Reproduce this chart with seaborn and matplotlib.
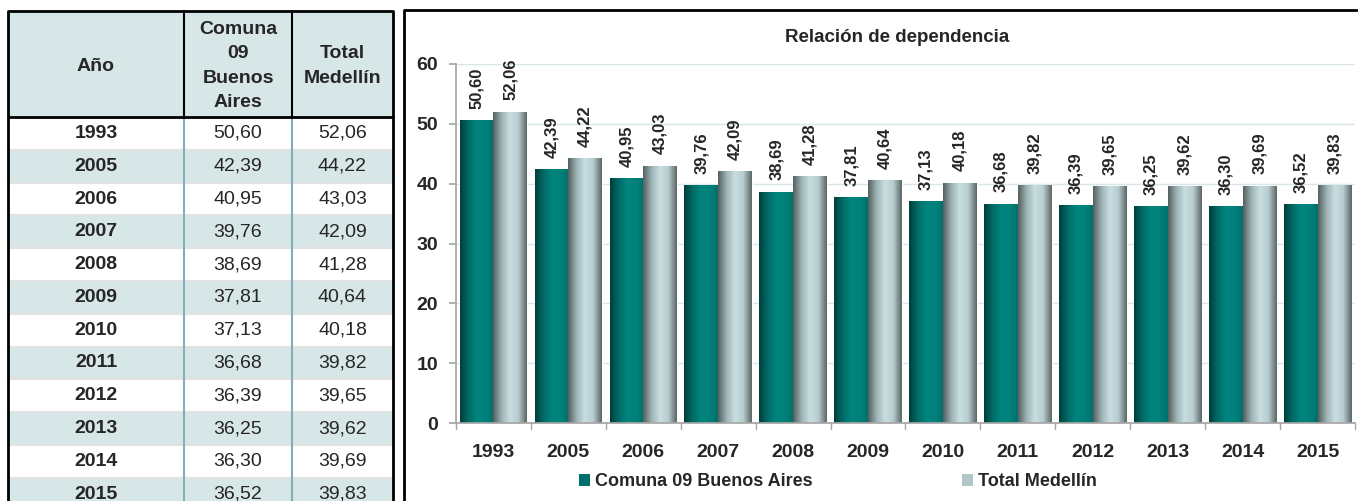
import numpy as np
import pandas as pd
import matplotlib.pyplot as plt
import seaborn as sns
from matplotlib.colors import LinearSegmentedColormap
from matplotlib.patches import Rectangle, Patch

years = ["1993", "2005", "2006", "2007", "2008", "2009", "2010",
         "2011", "2012", "2013", "2014", "2015"]
comuna = [50.60, 42.39, 40.95, 39.76, 38.69, 37.81, 37.13,
          36.68, 36.39, 36.25, 36.30, 36.52]
medellin = [52.06, 44.22, 43.03, 42.09, 41.28, 40.64, 40.18,
            39.82, 39.65, 39.62, 39.69, 39.83]
series_names = ["Comuna 09 Buenos Aires", "Total Medellín"]
table_header = ["Año", "Comuna\n09\nBuenos\nAires", "Total\nMedellín"]
chart_title = "Relación de dependencia"


def fmt(v):
    return f"{v:.2f}".replace(".", ",")


df = pd.DataFrame({
    "year": years * 2,
    "value": comuna + medellin,
    "serie": [series_names[0]] * len(years) + [series_names[1]] * len(years),
})

sns.set_theme(style="white")
plt.rcParams["font.family"] = ["Liberation Sans", "DejaVu Sans"]

W, H = 1358, 501
fig = plt.figure(figsize=(W / 100, H / 100), dpi=100)

# --- lienzo en pixeles para la tabla y los marcos ---
bg = fig.add_axes([0, 0, 1, 1])
bg.set_xlim(0, W)
bg.set_ylim(H, 0)
bg.axis("off")

col_x = [8, 184, 292, 393]
header_top, header_bot = 11, 117
row_h = 32.8
light = "#d7e6e7"
tfs = 14

bg.add_patch(Rectangle((col_x[0], header_top), col_x[-1] - col_x[0], header_bot - header_top,
                       facecolor=light, edgecolor="none"))
for i, y in enumerate(years):
    top = header_bot + i * row_h
    bg.add_patch(Rectangle((col_x[0], top), col_x[-1] - col_x[0], row_h,
                           facecolor="white" if i % 2 == 0 else light,
                           edgecolor="none"))
    bg.plot([col_x[0], col_x[-1]], [top + row_h, top + row_h], color="#e2e2e2", lw=1.5)
    yc = top + row_h / 2
    bg.text((col_x[0] + col_x[1]) / 2, yc, y, ha="center", va="center",
            fontsize=tfs, fontweight="bold")
    bg.text((col_x[1] + col_x[2]) / 2, yc, fmt(comuna[i]), ha="center", va="center", fontsize=tfs)
    bg.text((col_x[2] + col_x[3]) / 2, yc, fmt(medellin[i]), ha="center", va="center", fontsize=tfs)

for j, h in enumerate(table_header):
    bg.text((col_x[j] + col_x[j + 1]) / 2, (header_top + header_bot) / 2 + 2, h,
            ha="center", va="center", fontsize=tfs, fontweight="bold", linespacing=1.56)

# lineas de la tabla
bg.plot([col_x[1], col_x[1]], [header_bot, H], color="#7fb1b6", lw=1.5)
bg.plot([col_x[2], col_x[2]], [header_bot, H], color="#7fb1b6", lw=1.5)
bg.plot([col_x[1], col_x[1]], [header_top, header_bot], color="black", lw=1.5)
bg.plot([col_x[2], col_x[2]], [header_top, header_bot], color="black", lw=1.5)
bg.plot([col_x[0], col_x[-1]], [header_bot, header_bot], color="black", lw=2)
bg.plot([col_x[0], col_x[0], col_x[-1], col_x[-1]], [H + 5, header_top, header_top, H + 5],
        color="black", lw=2)

# marco del grafico
bg.plot([404, 404, W + 5], [H + 5, 10, 10], color="black", lw=2)

# --- grafico de barras ---
ax = fig.add_axes([456 / W, (H - 423) / H, (1355 - 456) / W, (423 - 64) / H])
sns.barplot(data=df, x="year", y="value", hue="serie", order=years,
            hue_order=series_names, palette=["#00807a", "#bcd3d6"],
            width=0.9, gap=0, saturation=1, ax=ax, legend=False)

ax.set_ylim(0, 60)
ax.set_yticks(range(0, 61, 10))
xlim = ax.get_xlim()
ax.set_autoscale_on(False)

cmaps = [
    LinearSegmentedColormap.from_list("c1", ["#003e3b", "#006b66", "#00847e", "#00827c", "#00716c"]),
    LinearSegmentedColormap.from_list("c2", ["#56615f", "#9db3b5", "#c9dee0", "#b8cdd0", "#5d6867"]),
]
grad = np.linspace(0, 1, 64).reshape(1, -1)
for k, cont in enumerate(ax.containers):
    vals = comuna if k == 0 else medellin
    for bar in cont:
        x0, y0 = bar.get_x(), bar.get_y()
        w, h = bar.get_width(), bar.get_height()
        im = ax.imshow(grad, cmap=cmaps[k], extent=[x0, x0 + w, y0, y0 + h],
                       aspect="auto", zorder=bar.get_zorder() + 0.1)
        im.set_clip_path(bar)
    ax.bar_label(cont, labels=[fmt(v) for v in vals], rotation=90, padding=8,
                 fontsize=12, fontweight="bold")
ax.set_xlim(xlim)

ax.grid(axis="y", color="#d8e6e8", lw=1)
ax.set_axisbelow(True)
for s in ["top", "right"]:
    ax.spines[s].set_visible(False)
ax.spines["left"].set_color("#a6a6a6")
ax.spines["bottom"].set_color("#a6a6a6")
ax.set_xlabel("")
ax.set_ylabel("")
ax.tick_params(axis="y", left=True, length=5, color="#a6a6a6", labelsize=14, pad=8)
ax.tick_params(axis="x", bottom=False, labelsize=14, pad=9)
for t in ax.get_xticklabels() + ax.get_yticklabels():
    t.set_fontweight("bold")
# marcas entre categorias
for i in range(len(years) + 1):
    ax.plot([i - 0.5, i - 0.5], [0, -1.0], color="#a6a6a6", lw=1, clip_on=False)
ax.set_xlim(xlim)

fig.text(897 / W, 1 - 38 / H, chart_title, ha="center", va="center",
         fontsize=13.5, fontweight="bold")

handles = [Patch(facecolor="#00706b", edgecolor="none"),
           Patch(facecolor="#b0c6c9", edgecolor="none")]
fig.legend(handles, series_names, loc="center", bbox_to_anchor=(838 / W, 1 - 482 / H),
           ncol=2, frameon=False, handlelength=0.6, handleheight=0.6, handletextpad=0.25,
           columnspacing=8.3, prop={"size": 13, "weight": "bold"})

fig.savefig("out.png", dpi=100)
